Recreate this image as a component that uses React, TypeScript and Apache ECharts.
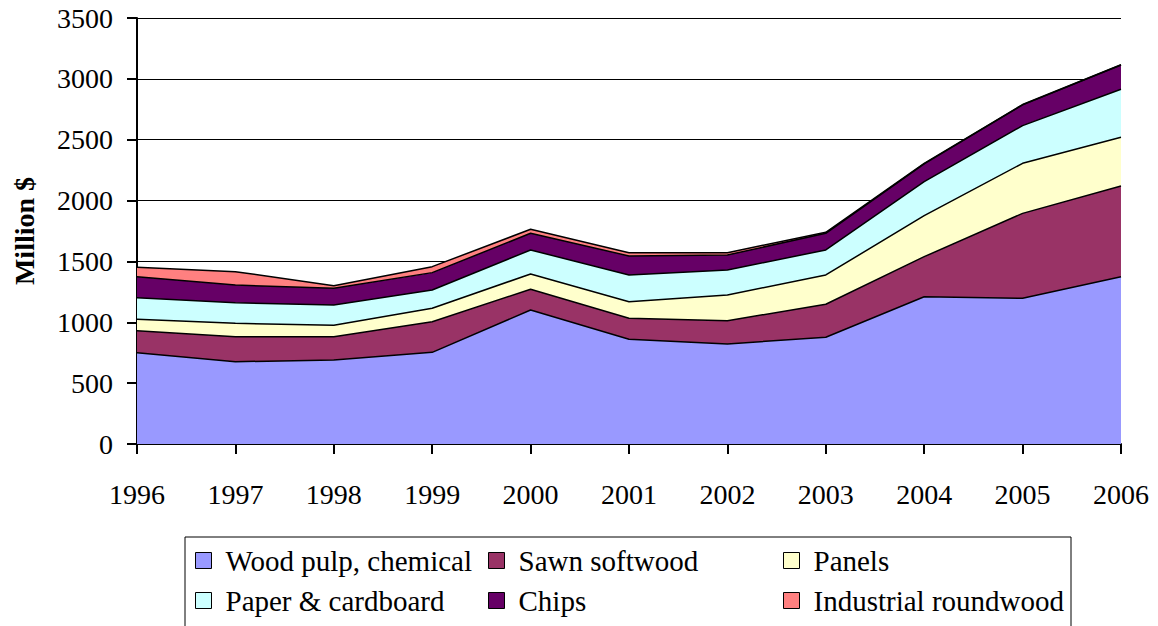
import React, { useEffect, useRef } from "react";
import * as echarts from "echarts";

const years = ["1996", "1997", "1998", "1999", "2000", "2001", "2002", "2003", "2004", "2005", "2006"];
const woodPulp = [750, 676, 690, 753, 1101, 860, 822, 877, 1210, 1197, 1375];
const sawnSoftwood = [181, 206, 192, 252, 170, 173, 191, 271, 329, 698, 745];
const panels = [93, 110, 93, 110, 126, 136, 211, 241, 337, 411, 400];
const paperCardboard = [178, 169, 167, 150, 197, 220, 206, 205, 279, 310, 395];
const chips = [173, 145, 137, 143, 137, 156, 123, 137, 146, 170, 199];
const industrialRoundwood = [77, 110, 22, 49, 33, 27, 19, 8, 5, 3, 2];

const seriesNames = [
  "Wood pulp, chemical",
  "Sawn softwood",
  "Panels",
  "Paper & cardboard",
  "Chips",
  "Industrial roundwood",
];
const seriesData = [woodPulp, sawnSoftwood, panels, paperCardboard, chips, industrialRoundwood];
const colors = ["#9999FF", "#993366", "#FFFFCC", "#CCFFFF", "#660066", "#FF8080"];

const FONT = "'Liberation Serif', 'Times New Roman', serif";

export default function App() {
  const ref = useRef<HTMLDivElement>(null);
  useEffect(() => {
    if (!ref.current) return;
    const chart = echarts.init(ref.current, null, { renderer: "svg" });
    const legendPos = [
      { left: 195, top: 546 },
      { left: 488, top: 546 },
      { left: 783, top: 546 },
      { left: 195, top: 586 },
      { left: 488, top: 586 },
      { left: 783, top: 586 },
    ];
    chart.setOption({
      animation: false,
      backgroundColor: "#ffffff",
      grid: {
        left: 137,
        right: 37,
        top: 18,
        bottom: 182,
        containLabel: false,
        outerBoundsMode: "none",
      },
      xAxis: {
        type: "category",
        data: years,
        boundaryGap: false,
        axisLine: { lineStyle: { color: "#000", width: 2 } },
        axisTick: { show: true, length: 10, lineStyle: { color: "#000", width: 2 }, alignWithLabel: true },
        axisLabel: { color: "#000", fontFamily: FONT, fontSize: 28, margin: 36 },
        splitLine: { show: false },
      },
      yAxis: {
        type: "value",
        min: 0,
        max: 3500,
        interval: 500,
        name: "Million $",
        nameLocation: "middle",
        nameRotate: 90,
        nameGap: 99,
        nameTextStyle: { color: "#000", fontFamily: FONT, fontSize: 28, fontWeight: "bold" },
        axisLine: { show: true, lineStyle: { color: "#000", width: 2 } },
        axisTick: { show: true, length: 10, lineStyle: { color: "#000", width: 2 } },
        axisLabel: {
          color: "#000",
          fontFamily: FONT,
          fontSize: 28,
          margin: 24,
          formatter: (v: number) => String(v),
        },
        splitLine: { show: true, lineStyle: { color: "#000", width: 1 } },
      },
      legend: seriesNames.map((name, i) => ({
        data: [name],
        left: legendPos[i].left,
        top: legendPos[i].top,
        orient: "horizontal",
        itemWidth: 16,
        itemHeight: 16,
        padding: 0,
        icon: "rect",
        selectedMode: false,
        itemStyle: { borderColor: "#000", borderWidth: 1 },
        textStyle: { color: "#000", fontFamily: FONT, fontSize: 29, padding: [0, 0, 0, 9] },
      })),
      graphic: [
        {
          type: "rect",
          shape: { x: 185, y: 537, width: 886, height: 120 },
          style: { fill: "none", stroke: "#000", lineWidth: 1 },
          silent: true,
        },
      ],
      series: seriesNames.map((name, i) => ({
        name,
        type: "line",
        stack: "total",
        data: seriesData[i],
        symbol: "none",
        color: colors[i],
        lineStyle: { color: "#000", width: 1.5 },
        areaStyle: { color: colors[i], opacity: 1 },
        itemStyle: { color: colors[i] },
        z: 2,
      })),
    });
    return () => chart.dispose();
  }, []);
  return (
    <div
      ref={ref}
      style={{ position: "fixed", left: 0, top: 0, width: 1158, height: 626, background: "#fff" }}
    />
  );
}
